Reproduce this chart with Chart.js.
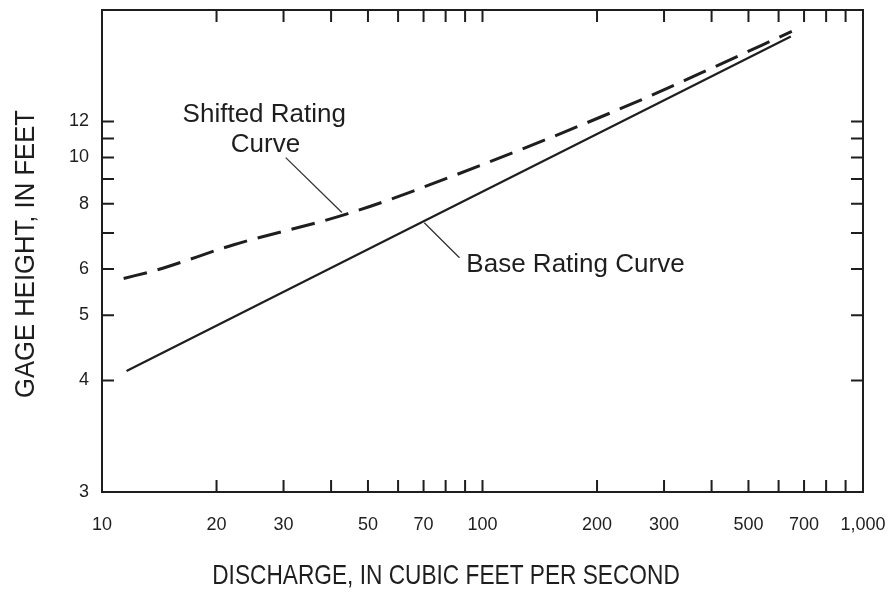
<!DOCTYPE html>
<html>
<head>
<meta charset="utf-8">
<script src="https://cdn.jsdelivr.net/npm/chart.js@4.4.0/dist/chart.umd.min.js"></script>
<style>
  body { margin: 0; background: #fff; }
  #wrap { width: 889px; height: 595px; position: relative; }
</style>
</head>
<body>
<div id="wrap"><canvas id="chart"></canvas></div>
<script>
// gage height of zero flow, the y axis is log(gage height - offset)
var gageOffset = 2

// base rating curve (discharge, gage height)
var baseQ = [11.6, 61, 646]
var baseH = [4.12, 7.01, 18.97]

// shifted rating curve
var shiftQ = [11.4, 14, 22.2, 44.3, 84.3, 252, 378, 650]
var shiftH = [5.77, 5.98, 6.65, 7.64, 9.15, 13.26, 15.57, 19.5]

// axes
var xLabels = [10, 20, 30, 50, 70, 100, 200, 300, 500, 700, 1000]
var xMarks = [20, 30, 40, 50, 60, 70, 80, 90, 100, 200, 300, 400, 500, 600, 700, 800, 900]
var yLabels = [3, 4, 5, 6, 8, 10, 12]
var yMarks = [4, 5, 6, 7, 8, 9, 10, 11, 12]

var ink = '#1e1e1e'
var fontName = '"Liberation Sans", Arial, Helvetica, sans-serif'

function toPoints(qs, hs) {
    var pts = []
    for (let i = 0; i < qs.length; i++) {
        pts.push({x: qs[i], y: hs[i] - gageOffset})
    }
    return pts
}

// labels and leader lines, placed in data units
var notes = [
    {text: 'Shifted Rating', q: 26.7, h: 12.0, align: 'center'},
    {text: 'Curve', q: 26.9, h: 10.3, align: 'center'},
    {text: 'Base Rating Curve', q: 90.7, h: 5.93, align: 'left'}
]
var leaders = [
    [30.4, 9.99, 42.7, 7.68],
    [70.3, 7.33, 87, 6.29]
]

var frame = {
    id: 'frame',
    afterDraw: function (chart) {
        var ctx = chart.ctx
        var a = chart.chartArea
        var xs = chart.scales.x
        var ys = chart.scales.y
        ctx.save()
        ctx.strokeStyle = ink
        ctx.lineWidth = 2
        ctx.strokeRect(a.left, a.top, a.right - a.left, a.bottom - a.top)

        // inward tick marks on all four sides
        var len = 12
        ctx.beginPath()
        xMarks.forEach(function (q) {
            var px = xs.getPixelForValue(q)
            ctx.moveTo(px, a.bottom); ctx.lineTo(px, a.bottom - len)
            ctx.moveTo(px, a.top); ctx.lineTo(px, a.top + len)
        })
        yMarks.forEach(function (h) {
            var py = ys.getPixelForValue(h - gageOffset)
            ctx.moveTo(a.left, py); ctx.lineTo(a.left + len, py)
            ctx.moveTo(a.right, py); ctx.lineTo(a.right - len, py)
        })
        ctx.stroke()

        // leader lines
        ctx.lineWidth = 1.3
        ctx.strokeStyle = '#333'
        ctx.beginPath()
        leaders.forEach(function (l) {
            ctx.moveTo(xs.getPixelForValue(l[0]), ys.getPixelForValue(l[1] - gageOffset))
            ctx.lineTo(xs.getPixelForValue(l[2]), ys.getPixelForValue(l[3] - gageOffset))
        })
        ctx.stroke()

        // curve labels
        ctx.fillStyle = ink
        ctx.font = '26px ' + fontName
        ctx.textBaseline = 'alphabetic'
        notes.forEach(function (n) {
            ctx.textAlign = n.align
            ctx.fillText(n.text, xs.getPixelForValue(n.q), ys.getPixelForValue(n.h - gageOffset))
        })

        // axis titles (narrow, like the original lettering)
        ctx.textAlign = 'center'
        ctx.textBaseline = 'middle'
        ctx.save()
        ctx.translate(446, 576)
        ctx.scale(0.81, 1)
        ctx.font = '28px ' + fontName
        ctx.fillText('DISCHARGE, IN CUBIC FEET PER SECOND', 0, 0)
        ctx.restore()
        ctx.translate(27, 254)
        ctx.rotate(-Math.PI / 2)
        ctx.scale(0.95, 1)
        ctx.font = '27px ' + fontName
        ctx.fillText('GAGE HEIGHT, IN FEET', 0, 0)
        ctx.restore()
    }
}

var ctx = document.getElementById('chart').getContext('2d')
window.rating = new Chart(ctx, {
    type: 'line',
    data: {
        datasets: [{
            label: 'Base Rating Curve',
            data: toPoints(baseQ, baseH),
            borderColor: ink,
            borderWidth: 2.2,
            pointRadius: 0,
            tension: 0
        }, {
            label: 'Shifted Rating Curve',
            data: toPoints(shiftQ, shiftH),
            borderColor: ink,
            borderWidth: 3,
            borderDash: [24, 11],
            pointRadius: 0,
            cubicInterpolationMode: 'monotone'
        }]
    },
    options: {
        responsive: true,
        maintainAspectRatio: false,
        animation: false,
        layout: {padding: {top: 10, right: 26, left: 0, bottom: 0}},
        plugins: {legend: {display: false}, tooltip: {enabled: false}},
        scales: {
            x: {
                type: 'logarithmic',
                min: 10,
                max: 1000,
                grid: {display: false, drawTicks: false},
                border: {display: false},
                afterBuildTicks: function (scale) {
                    scale.ticks = xLabels.map(function (v) { return {value: v} })
                },
                afterFit: function (scale) {
                    scale.height = 103
                    scale.paddingLeft = 0
                    scale.paddingRight = 0
                },
                ticks: {
                    autoSkip: false,
                    maxRotation: 0,
                    padding: 22,
                    color: ink,
                    font: {family: fontName, size: 18},
                    callback: function (v) { return Number(v).toLocaleString('en-US') }
                }
            },
            y: {
                type: 'logarithmic',
                min: 3 - gageOffset,
                max: 22 - gageOffset,
                grid: {display: false, drawTicks: false},
                border: {display: false},
                afterBuildTicks: function (scale) {
                    scale.ticks = yLabels.map(function (v) { return {value: v - gageOffset} })
                },
                afterFit: function (scale) {
                    scale.width = 102
                    scale.paddingTop = 0
                    scale.paddingBottom = 0
                },
                ticks: {
                    autoSkip: false,
                    padding: 13,
                    color: ink,
                    font: {family: fontName, size: 18},
                    callback: function (v) { return String(Math.round(v + gageOffset)) }
                }
            }
        }
    },
    plugins: [frame]
})
</script>
</body>
</html>
